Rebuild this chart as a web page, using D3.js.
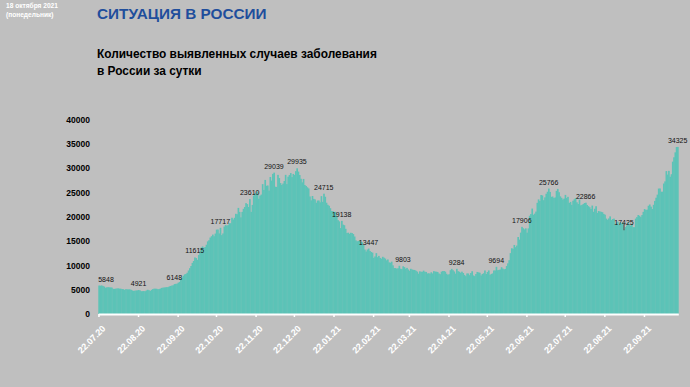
<!DOCTYPE html>
<html>
<head>
<meta charset="utf-8">
<script src="https://cdn.jsdelivr.net/npm/d3@7"></script>
<style>
  body { margin: 0; background: #bfbfbf; }
  svg { display: block; font-family: "Liberation Sans", Arial, sans-serif; }
</style>
</head>
<body>
<svg width="690" height="387"></svg>
<script>
// daily new cases, Russia, 22.07.2020 - 18.10.2021
var startDate = "2020-07-22";
var jul20 = [5848, 5811, 5870, 5765, 5635, 5395, 5475, 5509, 5482, 5462];
var aug20 = [5427, 5159, 5159, 5204, 5241, 5267, 5212, 5189, 5118, 5102, 4945, 5102, 5057, 5065, 5061, 4969,
  4839, 4748, 4790, 4828, 4870, 4921, 4852, 4676, 4696, 4711, 4676, 4829, 4980, 4897, 4729];
var sep20 = [4952, 5110, 5195, 5205, 5185, 5099, 5112, 5218, 5363, 5406, 5449, 5488, 5509, 5529, 5670,
  5762, 5841, 5905, 6148, 6196, 6215, 6431, 6595, 7212, 7523, 7867, 8135, 8232, 8481, 8945];
var oct20 = [9412, 9859, 10499, 10888, 11615, 11493, 11115, 12126, 12846, 13634, 13868, 13592, 13754, 14231,
  14922, 15150, 15700, 15982, 16319, 15971, 16521, 17340, 17347, 16550, 17717, 16202, 16550, 17965, 18283, 18140, 18257];
var nov20 = [18665, 18648, 19768, 19404, 19768, 20582, 20498, 21798, 20977, 19851, 20977, 21608, 21983, 22778,
  22572, 21983, 23610, 20977, 22410, 24318, 24822, 24581, 25173, 23675, 24326, 24538, 26683, 25487, 27543, 26338];
var dec20 = [26402, 25345, 28145, 27403, 28782, 29039, 26150, 26097, 28585, 27927, 26900, 26509, 26800, 27328,
  28585, 26689, 28209, 28552, 28948, 28137, 28776, 28552, 29350, 29935, 29258, 28552, 27787, 27039, 27747, 26513, 26301];
var jan21 = [26035, 25802, 24150, 23351, 24246, 23652, 23541, 22851, 23309, 23315, 22934, 24217, 23037, 24715,
  24092, 22857, 22436, 22237, 21734, 21152, 21127, 20921, 20985, 20100, 19290, 19032, 17648, 19138, 18359, 18241, 17501];
var feb21 = [16643, 16714, 16474, 16688, 16627, 16419, 15916, 15133, 14930, 15019, 15110, 14790, 14740, 14185,
  13233, 12828, 13233, 13447, 12953, 12742, 12604, 11534, 11823, 12505, 11671, 11940, 11534, 11359];
var mar21 = [11753, 11571, 11385, 11024, 11198, 10595, 10535, 10753, 10000, 9437, 9445, 9299, 9393, 9908,
  9299, 9218, 9803, 9632, 9299, 9474, 9150, 8885, 9288, 9128, 9073, 9040, 8885, 8711, 8277, 8769, 8672];
var apr21 = [8679, 8910, 8672, 8646, 8328, 8366, 8294, 8570, 8329, 8806, 8705, 8702, 8632, 8326, 8173,
  8704, 8814, 8835, 8699, 8271, 8053, 8169, 8998, 9270, 8996, 8731, 8294, 9284, 8787, 8683];
var may21 = [8465, 8697, 8419, 8034, 7770, 8328, 8329, 7974, 8419, 8790, 7920, 7770, 8217, 8639, 8554, 8475,
  7920, 8211, 8371, 8947, 8217, 8632, 8951, 8033, 8227, 8335, 8946, 8935, 9694, 8993, 9063];
var jun21 = [9145, 9614, 9332, 9163, 9262, 9852, 10407, 11059, 12505, 13510, 13397, 14185, 13721, 14057,
  15815, 15281, 16715, 17906, 17611, 17378, 17594, 16715, 17593, 20182, 20538, 21665, 20393, 20616, 21042, 22842];
var jul21 = [23543, 23218, 24439, 24353, 23378, 23962, 24702, 25116, 25766, 25082, 24072, 24133, 23827, 23947,
  25293, 25704, 25018, 24166, 23870, 23511, 23704, 24471, 23811, 24072, 22804, 23032, 22420, 23270, 23564, 23811, 22946];
var aug21 = [22589, 23508, 22316, 22420, 22589, 22804, 22866, 22399, 22160, 21932, 21571, 22277, 21000, 21624,
  22144, 20765, 21155, 21058, 20992, 20914, 20564, 20402, 19599, 19363, 19630, 20057, 19286, 19509, 19594, 18325, 18780];
var sep21 = [18985, 18341, 18856, 18645, 18780, 17425, 17856, 18191, 18841, 18341, 18178, 18554, 17837, 17837,
  19594, 19905, 20329, 20174, 19905, 20330, 20985, 21559, 21379, 21438, 22236, 22498, 22056, 21559, 22430, 23231];
var oct21 = [23888, 24522, 25769, 25781, 25110, 25133, 26802, 27246, 29362, 28647, 29409, 28190, 28717, 31299,
  32196, 33208, 34303, 34325];

var tickLabels = ["22.07.20", "22.08.20", "22.09.20", "22.10.20", "22.11.20", "22.12.20", "22.01.21",
  "22.02.21", "22.03.21", "22.04.21", "22.05.21", "22.06.21", "22.07.21", "22.08.21", "22.09.21"];
var yTicks = [0, 5000, 10000, 15000, 20000, 25000, 30000, 35000, 40000];
// values that carry a data label
var labeledValues = [5848, 4921, 6148, 11615, 17717, 23610, 29039, 29935, 24715, 19138, 13447,
  9803, 9284, 9694, 17906, 25766, 22866, 17425, 34325];

var cases = [].concat(jul20, aug20, sep20, oct20, nov20, dec20, jan21, feb21, mar21,
  apr21, may21, jun21, jul21, aug21, sep21, oct21);

var parseDate = d3.timeParse("%Y-%m-%d"),
    fmt = d3.timeFormat("%d.%m.%y");
var data = cases.map(function(v, i) {
  return { date: fmt(d3.timeDay.offset(parseDate(startDate), i)), value: v };
});

var svg = d3.select("svg"),
    width = +svg.attr("width"),
    height = +svg.attr("height");

svg.append("rect").attr("width", width).attr("height", height).attr("fill", "#bfbfbf");

var x = d3.scaleBand()
    .domain(data.map(function(d) { return d.date; }))
    .range([98.3, 678.3])
    .padding(0);

var y = d3.scaleLinear()
    .domain([0, 40000])
    .range([314, 119.3]);

// bars
svg.append("g")
  .selectAll("rect")
  .data(data)
  .enter().append("rect")
    .attr("x", function(d) { return x(d.date); })
    .attr("width", x.bandwidth() + 0.4)
    .attr("y", function(d) { return y(d.value); })
    .attr("height", function(d) { return y(0) - y(d.value); })
    .attr("fill", "#5cc3b7");

// y axis
var yAxis = svg.append("g")
    .attr("transform", "translate(97,0)")
    .call(d3.axisLeft(y).tickValues(yTicks).tickSize(0).tickPadding(7).tickFormat(d3.format("d")));
yAxis.select(".domain").remove();
yAxis.selectAll("text")
    .attr("font-family", "'Liberation Sans', Arial, sans-serif")
    .attr("font-size", 8.5)
    .attr("font-weight", "bold")
    .attr("fill", "#000");

// x axis
var xAxis = svg.append("g")
    .attr("transform", "translate(0,314)")
    .call(d3.axisBottom(x).tickValues(tickLabels).tickSize(3).tickSizeOuter(0));
xAxis.select(".domain").attr("stroke", "#fff").attr("stroke-width", 2);
xAxis.selectAll(".tick line").attr("stroke", "#fff").attr("stroke-width", 1.5);
xAxis.selectAll("text")
    .attr("font-family", "'Liberation Sans', Arial, sans-serif")
    .attr("font-size", 9)
    .attr("font-weight", "bold")
    .attr("fill", "#fff")
    .attr("text-anchor", "end")
    .attr("transform", "translate(5,13) rotate(-45)")
    .attr("dy", "0.35em")
    .attr("y", 0);

// data labels
var labels = svg.append("g");
labeledValues.forEach(function(v) {
  var d = data[cases.indexOf(v)];
  var cx = Math.max(x(d.date) + x.bandwidth() / 2, 106);
  labels.append("text")
      .attr("x", cx)
      .attr("y", y(d.value) - 4)
      .attr("text-anchor", "middle")
      .attr("font-size", 7)
      .attr("fill", "#111")
      .text(v);
  if (v === 17425) {
    labels.append("line")
        .attr("x1", cx).attr("x2", cx)
        .attr("y1", y(d.value) - 5).attr("y2", y(d.value) + 1)
        .attr("stroke", "#555").attr("stroke-width", 1.2);
  }
});

// headings
svg.append("text").attr("x", 6).attr("y", 7.5).attr("font-size", 6.6).attr("font-weight", "bold")
    .attr("fill", "#fff").text("18 октября 2021");
svg.append("text").attr("x", 6).attr("y", 16.5).attr("font-size", 6.6).attr("font-weight", "bold")
    .attr("fill", "#fff").text("(понедельник)");
svg.append("text").attr("x", 97).attr("y", 18.5).attr("font-size", 15.3).attr("font-weight", "bold")
    .attr("fill", "#1f4e9c").text("СИТУАЦИЯ В РОССИИ");
svg.append("text").attr("x", 97).attr("y", 57.7).attr("font-size", 11.9).attr("font-weight", "bold")
    .attr("fill", "#000").text("Количество выявленных случаев заболевания");
svg.append("text").attr("x", 97).attr("y", 74.5).attr("font-size", 11.9).attr("font-weight", "bold")
    .attr("fill", "#000").text("в России за сутки");
</script>
</body>
</html>
